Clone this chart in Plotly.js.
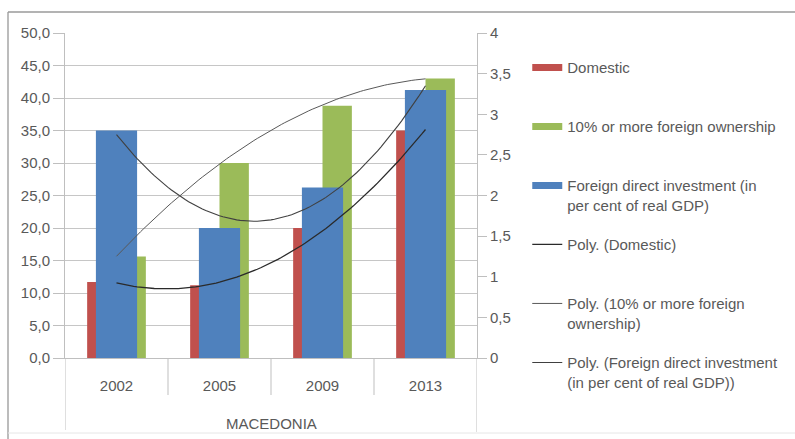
<!DOCTYPE html>
<html><head><meta charset="utf-8">
<script src="https://cdn.plot.ly/plotly-3.0.1.min.js"></script>
<style>html,body{margin:0;padding:0;background:#fff}#chart{width:795px;height:439px}</style>
</head><body><div id="chart"></div>
<script>
// ---- data ----
const years = ["2002", "2005", "2009", "2013"];
const groupLabel = "MACEDONIA";
const domestic = [11.7, 11.2, 20.0, 35.0];          // left axis
const foreignOwnership = [15.6, 30.0, 38.8, 43.0];  // left axis
const fdi = [2.8, 1.6, 2.1, 3.3];                   // right axis (per cent of real GDP)
const seriesNames = ["Domestic", "10% or more foreign ownership", "Foreign direct investment (in<br>per cent of real GDP)"];
const trendNames = ["Poly. (Domestic)", "Poly. (10% or more foreign<br>ownership)", "Poly. (Foreign direct investment<br>(in per cent of real GDP))"];

// ---- order-2 polynomial least squares (x = 1..n, as Excel trendlines) ----
function polyfit2(ys) {
  const S = [0,0,0,0,0], T = [0,0,0];
  ys.forEach((y, i) => { const x = i + 1;
    for (let k = 0; k < 5; k++) S[k] += Math.pow(x, k);
    for (let k = 0; k < 3; k++) T[k] += Math.pow(x, k) * y; });
  const A = [[S[0],S[1],S[2],T[0]],[S[1],S[2],S[3],T[1]],[S[2],S[3],S[4],T[2]]];
  for (let c = 0; c < 3; c++) {
    for (let r = c + 1; r < 3; r++) { const f = A[r][c] / A[c][c];
      for (let k = c; k < 4; k++) A[r][k] -= f * A[c][k]; }
  }
  const s = [0,0,0];
  for (let r = 2; r >= 0; r--) { let v = A[r][3];
    for (let k = r + 1; k < 3; k++) v -= A[r][k] * s[k]; s[r] = v / A[r][r]; }
  return s;
}
function curve(ys) {
  const c = polyfit2(ys), xs = [], vs = [];
  const n = ys.length, steps = 90;
  for (let i = 0; i <= steps; i++) { const t = (n - 1) * i / steps; const x = t + 1;
    xs.push(t); vs.push(c[0] + c[1]*x + c[2]*x*x); }
  return {xs, vs};
}

const idx = years.map((_, i) => i);
const RED = "#C0504D", GREEN = "#9BBB59", BLUE = "#4F81BD";
const FONT = {family: "Liberation Sans, Arial, sans-serif", size: 15, color: "#595959"};

const cD = curve(domestic), cF = curve(foreignOwnership), cI = curve(fdi);

const pad = s => s.indexOf("<br>") >= 0 ? s : s + "<br> ";

const data = [
  // legend swatches for the bar series
  {type: "scatter", mode: "lines", x: [null], y: [null], name: pad(seriesNames[0]), line: {color: RED, width: 7}, legendgroup: "a", legendrank: 1, hoverinfo: "skip"},
  {type: "scatter", mode: "lines", x: [null], y: [null], name: pad(seriesNames[1]), line: {color: GREEN, width: 7}, legendgroup: "b", legendrank: 2, hoverinfo: "skip"},
  {type: "scatter", mode: "lines", x: [null], y: [null], name: pad(seriesNames[2]), line: {color: BLUE, width: 7}, legendgroup: "c", legendrank: 3, hoverinfo: "skip"},
  // bars
  {type: "bar", x: idx, y: domestic, width: 0.285, offset: -0.285, marker: {color: RED}, showlegend: false, yaxis: "y"},
  {type: "bar", x: idx, y: foreignOwnership, width: 0.285, offset: 0, marker: {color: GREEN}, showlegend: false, yaxis: "y"},
  {type: "bar", x: idx, y: fdi, width: 0.4, offset: -0.2, marker: {color: BLUE}, showlegend: false, yaxis: "y2"},
  // trendlines
  {type: "scatter", mode: "lines", x: cD.xs, y: cD.vs, name: pad(trendNames[0]), line: {color: "#2a2a2a", width: 1.3}, yaxis: "y3", legendgroup: "d", legendrank: 4},
  {type: "scatter", mode: "lines", x: cF.xs, y: cF.vs, name: pad(trendNames[1]), line: {color: "#595959", width: 1}, yaxis: "y3", legendgroup: "e", legendrank: 5},
  {type: "scatter", mode: "lines", x: cI.xs, y: cI.vs, name: pad(trendNames[2]), line: {color: "#404040", width: 1.1}, yaxis: "y2", legendgroup: "f", legendrank: 6}
];

const GRID = "#c6c6c6", AX = "#bfbfbf";
const H = 325;
const layout = {
  width: 795, height: 439,
  margin: {l: 65, r: 318, t: 33, b: 81, pad: 0, autoexpand: false},
  paper_bgcolor: "#fff", plot_bgcolor: "rgba(0,0,0,0)",
  separators: ",.",
  font: FONT,
  barmode: "overlay",
  showlegend: true,
  legend: {x: 1.122, xanchor: "left", y: 0.944, yanchor: "top", font: FONT, bgcolor: "rgba(0,0,0,0)",
           tracegroupgap: 17, valign: "top", itemwidth: 30, traceorder: "grouped", maxheight: 420},
  xaxis: {range: [-0.5, 3.5], tickvals: idx, ticktext: years, showgrid: false, zeroline: false,
          showline: true, linecolor: AX, ticks: "", tickfont: FONT, ticklabelstandoff: 14, fixedrange: true},
  yaxis: {range: [0, 50], dtick: 5, tick0: 0, tickformat: ".1f", showgrid: true, gridcolor: GRID, zeroline: false,
          showline: true, linecolor: AX, ticks: "outside", ticklen: 11, tickcolor: AX, tickfont: FONT},
  yaxis2: {range: [0, 4], dtick: 0.5, tick0: 0, overlaying: "y", side: "right", showgrid: false, zeroline: false,
           showline: true, linecolor: AX, ticks: "outside", ticklen: 9, tickcolor: AX, tickfont: FONT},
  yaxis3: {range: [0, 50], overlaying: "y", visible: false},
  annotations: [{text: groupLabel, xref: "paper", yref: "paper", x: 0.5, y: (358 - 423) / H, xanchor: "center", yanchor: "middle", showarrow: false, font: FONT}],
  shapes: [
    {type: "line", xref: "x", yref: "paper", x0: 0.5, x1: 0.5, y0: 0, y1: -37 / H, line: {color: AX, width: 1}},
    {type: "line", xref: "x", yref: "paper", x0: 1.5, x1: 1.5, y0: 0, y1: -37 / H, line: {color: AX, width: 1}},
    {type: "line", xref: "x", yref: "paper", x0: 2.5, x1: 2.5, y0: 0, y1: -37 / H, line: {color: AX, width: 1}},
    {type: "line", xref: "x", yref: "paper", x0: -0.5, x1: -0.5, y0: 0, y1: -72 / H, line: {color: AX, width: 1}},
    {type: "line", xref: "x", yref: "paper", x0: 3.5, x1: 3.5, y0: 0, y1: -74 / H, line: {color: AX, width: 1}},
    // chart frame
    {type: "line", xref: "paper", yref: "paper", x0: (8 - 65) / 412, x1: (8 - 65) / 412, y0: (358 - 12) / H, y1: (358 - 439) / H, line: {color: "#a6a6a6", width: 1.5}},
    {type: "line", xref: "paper", yref: "paper", x0: (8 - 65) / 412, x1: (795 - 65) / 412, y0: (358 - 12) / H, y1: (358 - 12) / H, line: {color: "#9a9a9a", width: 1.5}},
    {type: "line", xref: "paper", yref: "paper", x0: (8 - 65) / 412, x1: (795 - 65) / 412, y0: (358 - 433) / H, y1: (358 - 433) / H, line: {color: "#e6e6e6", width: 1}}
  ]
};

Plotly.newPlot("chart", data, layout, {staticPlot: true, displayModeBar: false});
</script>
</body></html>
